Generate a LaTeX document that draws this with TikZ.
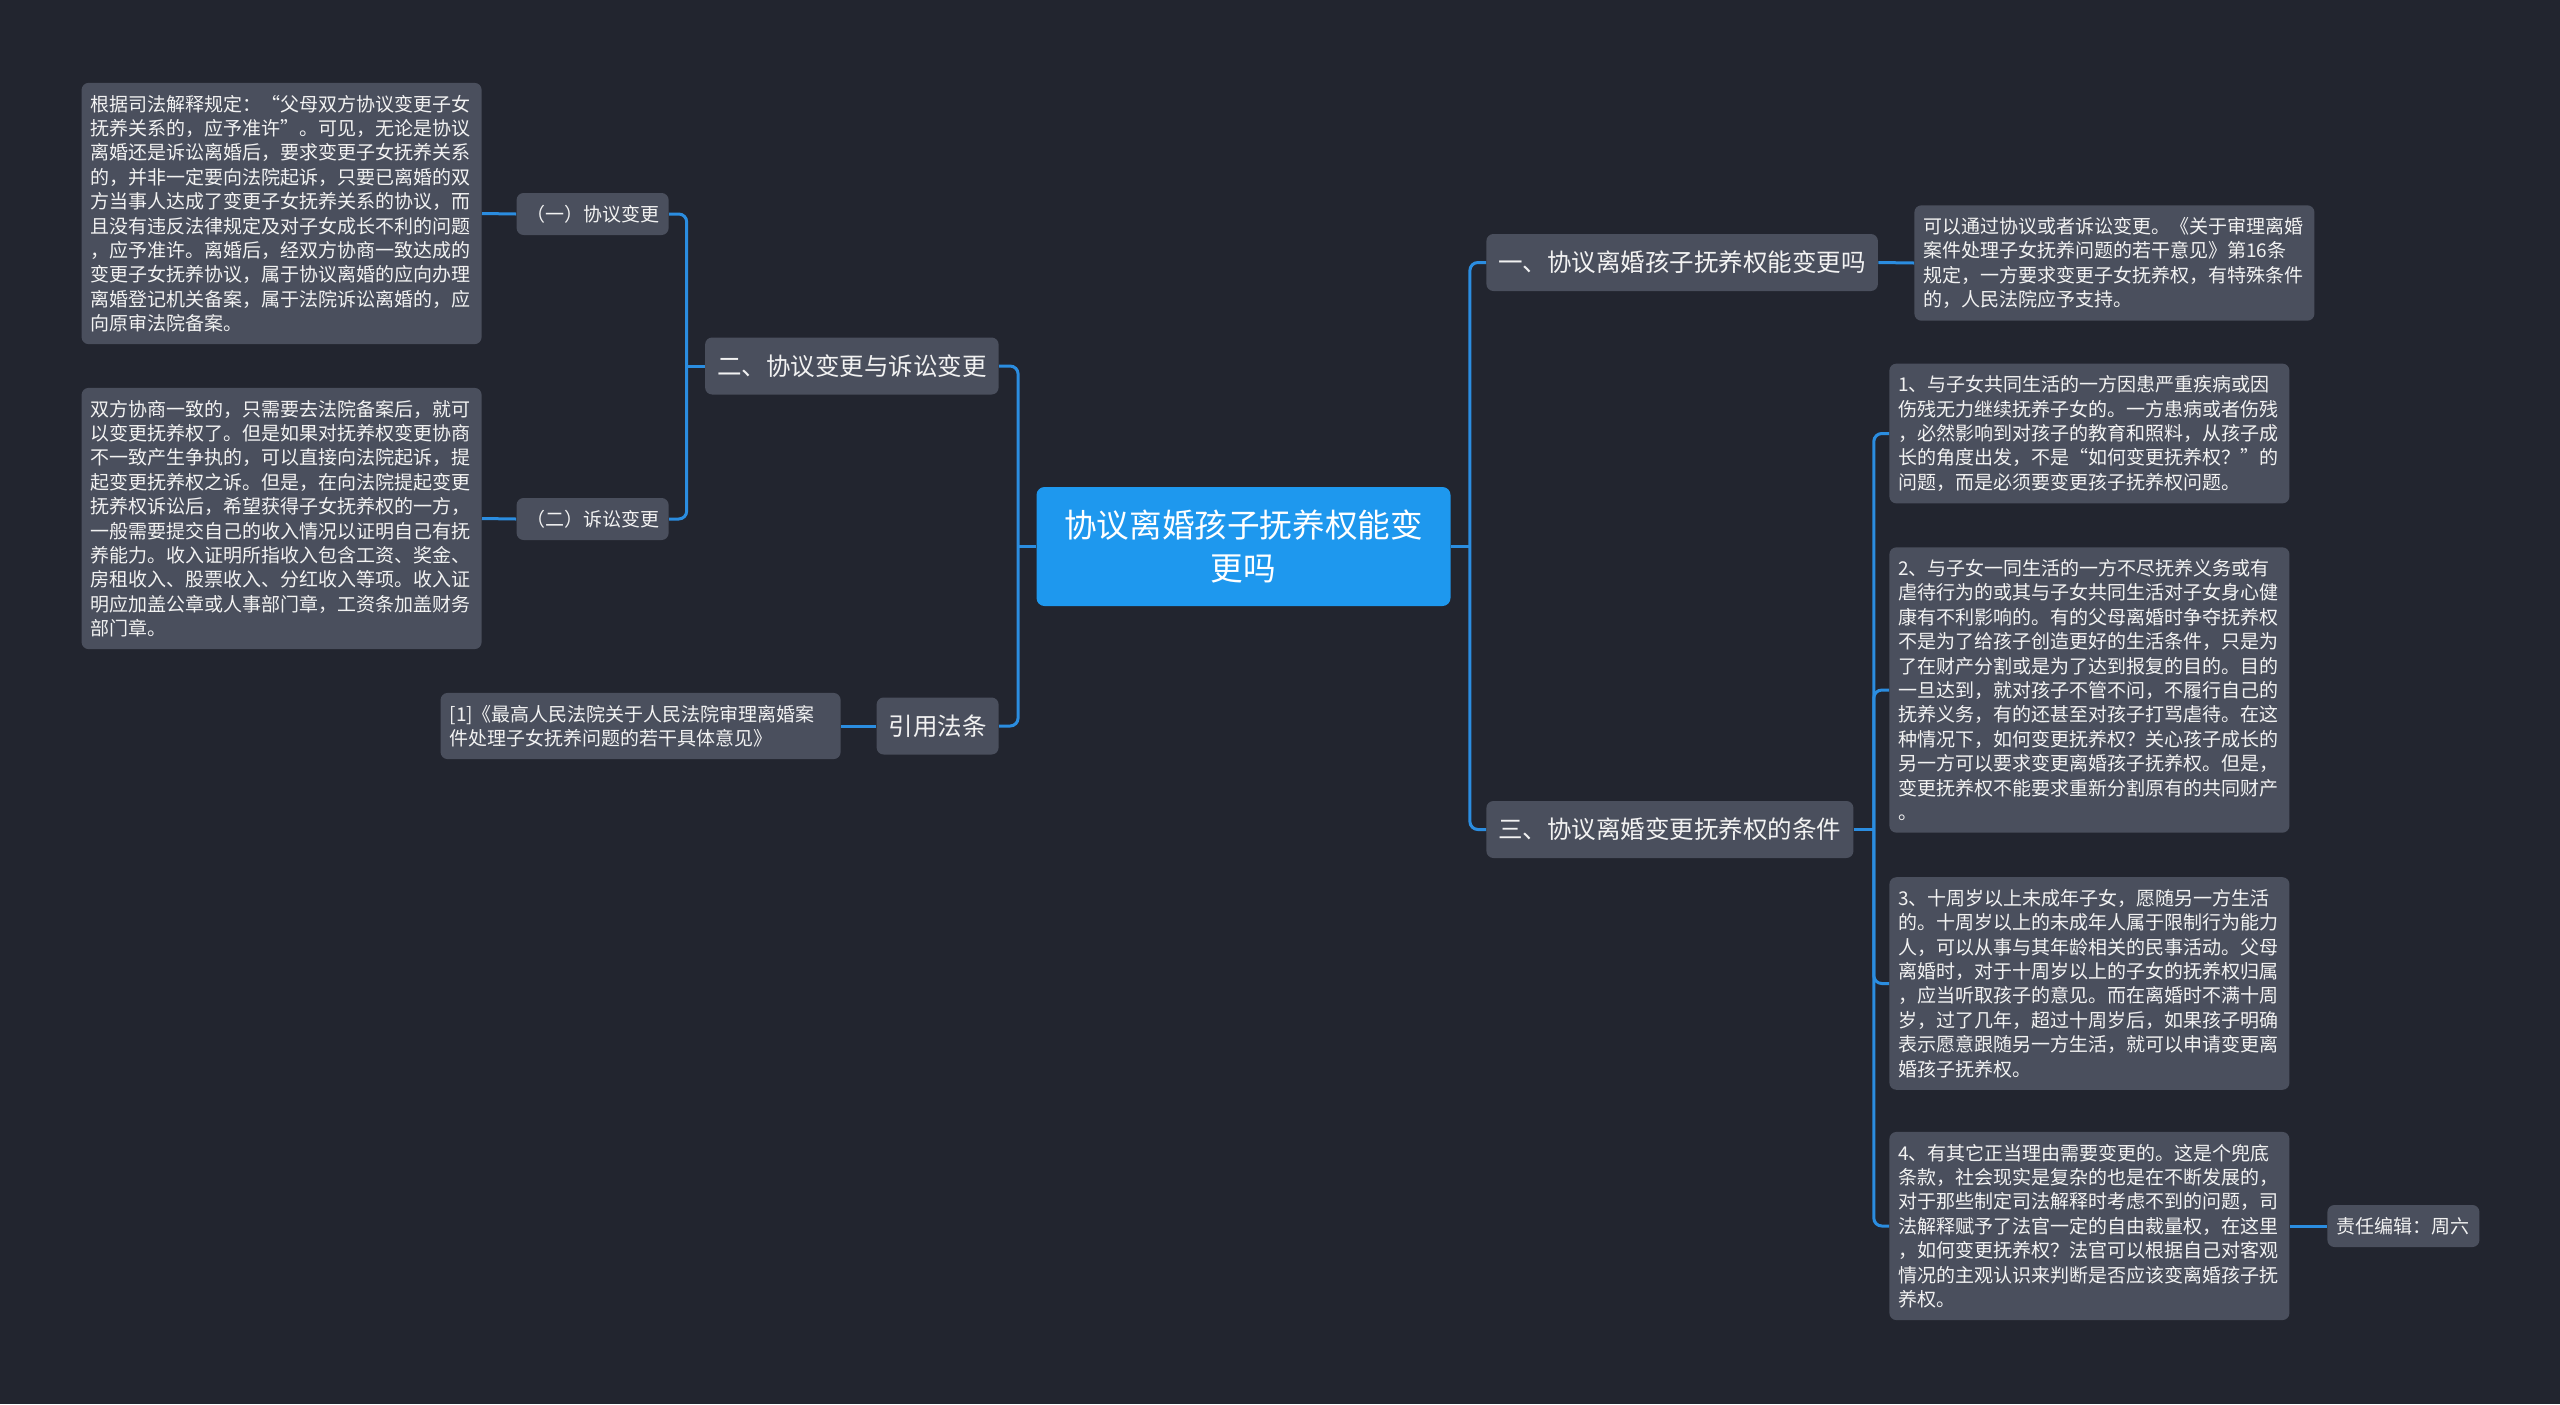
\documentclass[tikz,border=0pt]{standalone}
\usepackage{fontspec}
\setmainfont{Noto Sans CJK SC}
\definecolor{bgdark}{HTML}{22252F}
\definecolor{nodegray}{HTML}{4A4F5D}
\definecolor{rootblue}{HTML}{1E98EE}
\definecolor{linkblue}{HTML}{2B8DE0}
\definecolor{textwhite}{HTML}{F2F2F2}

\begin{document}
\begin{tikzpicture}[
  x=0.5pt,y=-0.5pt,
  link/.style={line width=1.5pt,draw=linkblue,rounded corners=4pt},
  root/.style={fill=rootblue,rounded corners=4pt,text=white,align=center,
    font=\fontsize{16.3pt}{21.5pt}\selectfont,minimum width=207pt,minimum height=59.5pt,inner sep=0pt},
  topic/.style={fill=nodegray,rounded corners=3.5pt,text=textwhite,
    font=\fontsize{12.25pt}{14pt}\selectfont,minimum height=28.5pt,inner xsep=6pt,inner ysep=0pt},
  sub/.style={fill=nodegray,rounded corners=3.5pt,text=textwhite,
    font=\fontsize{9.5pt}{12pt}\selectfont,minimum height=21pt,inner xsep=4.75pt,inner ysep=0pt},
  leaf/.style={fill=nodegray,rounded corners=3.5pt,text=textwhite,
    font=\fontsize{9.5pt}{12.2pt}\selectfont,text width=191pt,align=left,inner xsep=4.5pt,inner ysep=6pt}
]
\fill[bgdark] (0,0) rectangle (2560,1404);
\useasboundingbox (0,0) rectangle (2560,1404);

\node[root] (root) at (1243.5,546.5) {协议离婚孩子抚养权能变\\更吗};

% left side
\node[topic,anchor=east] (change) at (999,366) {二、协议变更与诉讼变更};
\node[topic,anchor=east] (cite) at (999,726) {引用法条};
\node[sub,anchor=east] (agree) at (669,214) {（一）协议变更};
\node[sub,anchor=east] (suit) at (669,519) {（二）诉讼变更};
\node[leaf,anchor=east] (agreetxt) at (482,213.5) {根据司法解释规定：“父母双方协议变更子女\\抚养关系的，应予准许”。可见，无论是协议\\离婚还是诉讼离婚后，要求变更子女抚养关系\\的，并非一定要向法院起诉，只要已离婚的双\\方当事人达成了变更子女抚养关系的协议，而\\且没有违反法律规定及对子女成长不利的问题\\，应予准许。离婚后，经双方协商一致达成的\\变更子女抚养协议，属于协议离婚的应向办理\\离婚登记机关备案，属于法院诉讼离婚的，应\\向原审法院备案。};
\node[leaf,anchor=east] (suittxt) at (482,518.5) {双方协商一致的，只需要去法院备案后，就可\\以变更抚养权了。但是如果对抚养权变更协商\\不一致产生争执的，可以直接向法院起诉，提\\起变更抚养权之诉。但是，在向法院提起变更\\抚养权诉讼后，希望获得子女抚养权的一方，\\一般需要提交自己的收入情况以证明自己有抚\\养能力。收入证明所指收入包含工资、奖金、\\房租收入、股票收入、分红收入等项。收入证\\明应加盖公章或人事部门章，工资条加盖财务\\部门章。};
\node[leaf,anchor=east] (citetxt) at (841,726) {[1]《最高人民法院关于人民法院审理离婚案\\件处理子女抚养问题的若干具体意见》};

% right side
\node[topic,anchor=west] (can) at (1486,262.5) {一、协议离婚孩子抚养权能变更吗};
\node[topic,anchor=west] (cond) at (1486,829.5) {三、协议离婚变更抚养权的条件};
\node[leaf,anchor=west] (cantxt) at (1914,263) {可以通过协议或者诉讼变更。《关于审理离婚\\案件处理子女抚养问题的若干意见》第16条\\规定，一方要求变更子女抚养权，有特殊条件\\的，人民法院应予支持。};
\node[leaf,anchor=west] (cond1) at (1889,433.5) {1、与子女共同生活的一方因患严重疾病或因\\伤残无力继续抚养子女的。一方患病或者伤残\\，必然影响到对孩子的教育和照料，从孩子成\\长的角度出发，不是“如何变更抚养权？”的\\问题，而是必须要变更孩子抚养权问题。};
\node[leaf,anchor=west] (cond2) at (1889,690) {2、与子女一同生活的一方不尽抚养义务或有\\虐待行为的或其与子女共同生活对子女身心健\\康有不利影响的。有的父母离婚时争夺抚养权\\不是为了给孩子创造更好的生活条件，只是为\\了在财产分割或是为了达到报复的目的。目的\\一旦达到，就对孩子不管不问，不履行自己的\\抚养义务，有的还甚至对孩子打骂虐待。在这\\种情况下，如何变更抚养权？关心孩子成长的\\另一方可以要求变更离婚孩子抚养权。但是，\\变更抚养权不能要求重新分割原有的共同财产\\。};
\node[leaf,anchor=west] (cond3) at (1889,983.5) {3、十周岁以上未成年子女，愿随另一方生活\\的。十周岁以上的未成年人属于限制行为能力\\人，可以从事与其年龄相关的民事活动。父母\\离婚时，对于十周岁以上的子女的抚养权归属\\，应当听取孩子的意见。而在离婚时不满十周\\岁，过了几年，超过十周岁后，如果孩子明确\\表示愿意跟随另一方生活，就可以申请变更离\\婚孩子抚养权。};
\node[leaf,anchor=west] (cond4) at (1889,1226) {4、有其它正当理由需要变更的。这是个兜底\\条款，社会现实是复杂的也是在不断发展的，\\对于那些制定司法解释时考虑不到的问题，司\\法解释赋予了法官一定的自由裁量权，在这里\\，如何变更抚养权？法官可以根据自己对客观\\情况的主观认识来判断是否应该变离婚孩子抚\\养权。};
\node[sub,anchor=west] (editor) at (2327,1226) {责任编辑：周六};

\coordinate (lhub) at ([xshift=-9pt]root.west);
\coordinate (rhub) at ([xshift=9.5pt]root.east);
\coordinate (chub) at ([xshift=-9pt]change.west);
\coordinate (thub) at ([xshift=10pt]cond.east);

\draw[link] (root.west) -- (lhub);
\draw[link] (change.east) -| (lhub) |- (cite.east);
\draw[link] (change.west) -- (chub);
\draw[link] (agree.east) -| (chub) |- (suit.east);
\draw[link] (agreetxt.east) -- (agree.west);
\draw[link] (suittxt.east) -- (suit.west);
\draw[link] (citetxt.east) -- (cite.west);

\draw[link] (root.east) -- (rhub);
\draw[link] (can.west) -| (rhub) |- (cond.west);
\draw[link] (can.east) -- (cantxt.west);
\draw[link] (cond.east) -- (thub);
\draw[link] (cond1.west) -| (thub) |- (cond4.west);
\draw[link] (thub) |- (cond2.west);
\draw[link] (thub) |- (cond3.west);
\draw[link] (cond4.east) -- (editor.west);
\end{tikzpicture}
\end{document}
